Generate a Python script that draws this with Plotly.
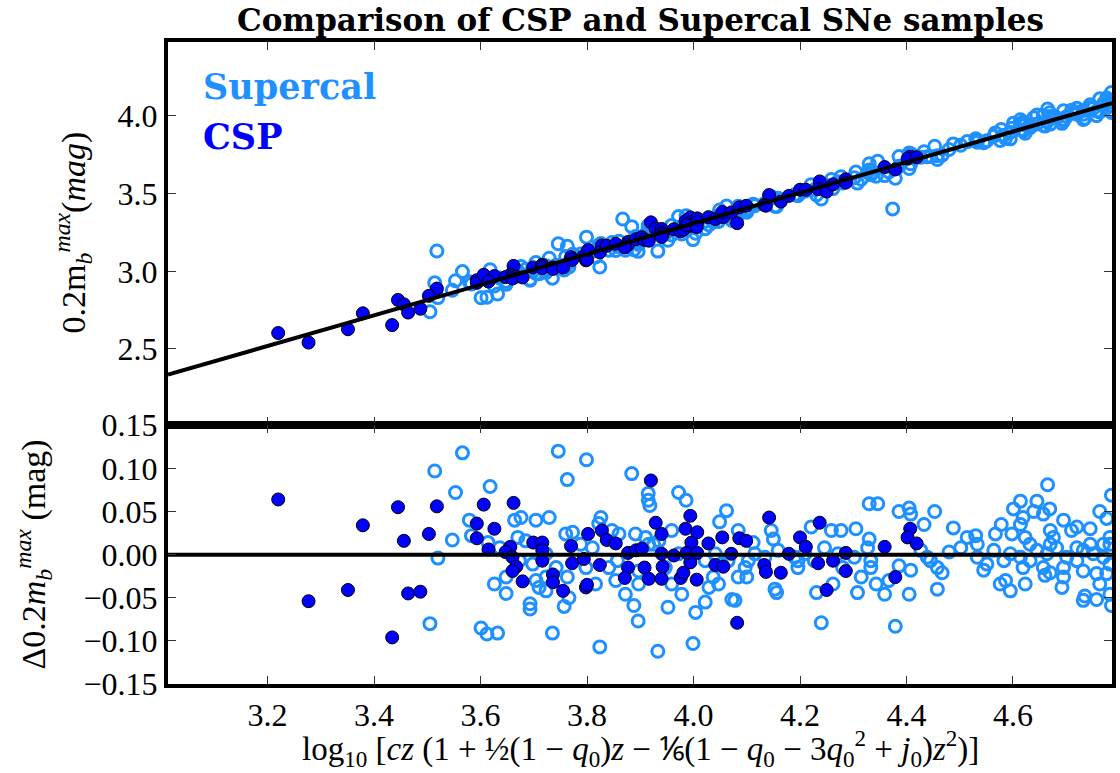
import plotly.graph_objects as go

# ---------------- data ----------------
# Fit line  0.2 m_b = FIT_INTERCEPT + FIT_SLOPE * log10(cz...)
FIT_SLOPE = 0.986
FIT_INTERCEPT = -0.636

X_RANGE = [3.013, 4.786]
Y_TOP_RANGE = [2.009, 4.476]
Y_BOT_RANGE = [-0.15, 0.15]

TOP_TICKS = [2.5, 3.0, 3.5, 4.0]
BOT_TICKS = [-0.15, -0.10, -0.05, 0.00, 0.05, 0.10, 0.15]
X_TICKS = [3.2, 3.4, 3.6, 3.8, 4.0, 4.2, 4.4, 4.6]

# CSP: x (log10 cz ...) and residual Δ0.2m_b
csp_x = [3.220, 3.277, 3.351, 3.379, 3.434, 3.445, 3.456, 3.464, 3.487, 3.518,
         3.503, 3.593, 3.593, 3.606, 3.626, 3.662, 3.615, 3.656, 3.647, 3.660,
         3.667, 3.660, 3.679, 3.699, 3.716, 3.716, 3.716, 3.736, 3.736, 3.755,
         3.770, 3.772, 3.794, 3.798, 3.800, 3.802, 3.828, 3.824, 3.837, 3.854,
         3.877, 3.877, 3.871, 3.892, 3.920, 3.903, 3.908, 3.916, 3.929, 3.940,
         3.940, 3.942, 3.940, 3.963, 3.976, 3.981, 3.985, 3.994, 3.996, 3.994,
         3.987, 4.007, 4.007, 4.006, 4.028, 4.041, 4.056, 4.054, 4.071, 4.086,
         4.099, 4.082, 4.142, 4.133, 4.136, 4.164, 4.179, 4.200, 4.211, 4.237,
         4.234, 4.250, 4.262, 4.286, 4.286, 4.359, 4.407, 4.402, 4.419, 4.379]
csp_dm = [0.064, -0.054, -0.041, 0.034, -0.096, 0.055, 0.016, -0.045, -0.043, 0.056,
          0.024, 0.036, 0.019, 0.058, 0.030, 0.060, 0.006, 0.009, 0.003, -0.003,
          -0.014, -0.019, -0.031, 0.014, 0.014, 0.005, -0.007, -0.023, -0.032, -0.042,
          0.010, -0.010, -0.005, -0.038, -0.035, 0.024, 0.028, -0.012, 0.017, 0.013,
          0.002, -0.015, -0.027, 0.005, 0.086, 0.007, -0.015, -0.028, 0.037, 0.024,
          0.001, -0.014, -0.028, -0.001, -0.027, -0.021, 0.030, 0.045, 0.014, -0.009,
          0.002, 0.026, 0.002, -0.029, 0.013, -0.012, -0.014, 0.020, 0.001, 0.019,
          0.016, -0.079, 0.043, -0.012, -0.020, -0.021, 0.001, 0.020, 0.009, 0.037,
          -0.010, -0.041, -0.007, 0.002, -0.019, 0.009, 0.030, 0.020, 0.013, -0.026]

# Supercal: x and residual Δ0.2m_b
sc_x = [3.566, 3.514, 3.553, 3.618, 3.746, 3.799, 3.763, 3.884, 3.520, 3.547,
        3.579, 3.583, 3.505, 3.601, 3.612, 3.632, 3.735, 3.824, 3.626, 3.648,
        3.693, 3.693, 3.757, 3.766, 3.664, 3.676, 3.704, 3.729, 3.760, 3.773,
        3.826, 3.822, 3.847, 3.891, 3.614, 3.636, 3.670, 3.685, 3.648, 3.704,
        3.723, 3.742, 3.763, 3.816, 3.854, 3.872, 3.888, 3.896, 3.788, 3.810,
        3.857, 3.841, 3.723, 3.698, 3.673, 3.798, 3.723, 3.710, 3.897, 3.860,
        3.915, 3.915, 3.918, 3.972, 3.986, 4.062, 4.049, 3.910, 3.959, 4.084,
        4.112, 4.146, 4.150, 4.221, 4.259, 4.277, 4.305, 4.330, 4.330, 4.246,
        3.897, 3.933, 3.952, 3.999, 4.004, 4.022, 3.978, 3.959, 4.029, 4.047,
        4.072, 4.078, 4.084, 4.100, 4.153, 4.156, 4.196, 4.231, 4.240, 4.262,
        4.308, 4.315, 4.333, 4.343, 4.037, 4.103, 4.097, 4.196, 4.280, 4.053,
        3.947, 3.925, 3.916, 3.935, 3.972, 4.022, 4.041, 4.065, 4.115, 4.134,
        4.159, 4.190, 4.209, 4.227, 4.271, 4.302, 4.327, 4.333,
        4.346, 4.386, 4.405, 4.408, 4.453, 4.433, 4.488, 4.665, 4.614, 4.601,
        4.645, 4.639, 4.657, 4.669, 4.578, 4.614, 4.567, 4.598, 4.623, 4.514,
        4.530, 4.533, 4.670, 4.676, 4.720, 4.710, 4.745, 4.763, 4.776, 4.785,
        4.782, 4.367, 4.359, 4.405, 4.458, 4.379, 4.386, 4.408, 4.467, 4.458,
        4.439, 4.480, 4.545, 4.576, 4.595, 4.586, 4.623, 4.660, 4.670, 4.692,
        4.695, 4.732, 4.735, 4.757, 4.763, 4.785, 4.782, 4.595, 4.614, 4.632,
        4.645, 4.664, 4.682, 4.701, 4.720, 4.732, 4.751, 4.770, 4.782, 4.619,
        4.657, 4.695, 4.732, 4.757, 4.776, 4.564, 4.583, 4.720, 4.745, 4.770,
        4.782, 4.632, 4.670, 4.502, 4.533, 4.551, 4.427, 4.445, 4.619, 4.695,
        3.518, 3.867, 4.374]
sc_dm = [0.118, 0.097, 0.072, 0.079, 0.120, 0.110, 0.087, 0.094, -0.004, 0.017,
         0.040, 0.022, -0.080, -0.085, -0.092, -0.091, -0.091, -0.107, -0.034, -0.045,
         -0.057, -0.063, -0.060, -0.050, 0.040, 0.043, 0.040, 0.043, 0.024, 0.026,
         0.043, 0.036, 0.028, 0.024, 0.014, 0.008, 0.020, 0.016, -0.026, -0.030,
         -0.026, -0.015, -0.026, -0.034, -0.030, -0.046, -0.059, -0.077, 0.012, 0.008,
         -0.007, -0.015, 0.001, -0.011, -0.007, -0.015, -0.042, -0.038, -0.019, 0.024,
         0.071, 0.063, 0.057, 0.072, 0.063, 0.051, 0.038, 0.020, 0.028, 0.028,
         0.014, 0.028, 0.018, 0.032, 0.028, 0.028, 0.030, 0.059, 0.018, 0.008,
         -0.034, -0.112, -0.061, -0.103, -0.067, -0.055, -0.046, -0.034, -0.038, -0.034,
         -0.052, -0.053, -0.026, -0.026, -0.040, -0.044, -0.015, -0.044, -0.079, -0.034,
         -0.044, -0.026, -0.007, -0.034, -0.026, -0.007, -0.015, -0.007, -0.015, -0.011,
         -0.015, 0.012, 0.012, 0.016, 0.001, -0.007, 0.001, -0.007, 0.001, -0.003,
         0.005, -0.003, 0.001, -0.007, 0.001, -0.003, 0.008, -0.015,
         0.059, 0.050, 0.054, 0.047, 0.050, 0.035, 0.031, 0.081, 0.062, 0.053,
         0.062, 0.050, 0.047, 0.053, 0.035, 0.035, 0.024, 0.024, 0.020, 0.020,
         0.022, 0.012, 0.028, 0.020, 0.032, 0.028, 0.030, 0.050, 0.042, 0.069,
         0.012, -0.030, -0.046, -0.046, -0.040, -0.083, -0.013, -0.018, -0.021, -0.015,
         -0.003, 0.003, -0.018, -0.034, -0.042, -0.030, -0.034, -0.024, -0.021, -0.038,
         -0.026, -0.053, -0.048, -0.052, -0.034, -0.059, -0.046, 0.001, -0.003, -0.007,
         0.005, 0.001, 0.008, -0.003, -0.007, 0.005, 0.001, -0.003, -0.011, -0.015,
         -0.015, -0.015, -0.019, -0.022, -0.022, 0.005, -0.007, 0.008, 0.012, 0.012,
         0.020, 0.012, 0.012, 0.008, -0.003, -0.011, 0.005, -0.007, 0.043, 0.040,
         0.298, 0.160, -0.275]

# top-panel values: fit line + residual
csp_m = [FIT_INTERCEPT + FIT_SLOPE * x + d for x, d in zip(csp_x, csp_dm)]
sc_m = [FIT_INTERCEPT + FIT_SLOPE * x + d for x, d in zip(sc_x, sc_dm)]
line_x = X_RANGE
line_y = [FIT_INTERCEPT + FIT_SLOPE * x for x in line_x]

# ---------------- figure ----------------
W, H = 1120, 773
ML, MR, MT, MB = 168, 4, 42, 89
SPLIT = 0.403

SC_COLOR = "#1E90FF"
CSP_COLOR = "#0000FF"
SERIF = "Liberation Serif, Times New Roman, serif"

fig = go.Figure()

sc_marker = dict(symbol="circle-open", size=12, color=SC_COLOR, line=dict(width=3, color=SC_COLOR))
csp_marker = dict(symbol="circle", size=13, color=CSP_COLOR, line=dict(width=1, color="black"))

fig.add_trace(go.Scatter(x=sc_x, y=sc_m, mode="markers", marker=sc_marker,
                         xaxis="x", yaxis="y", showlegend=False, cliponaxis=True))
fig.add_trace(go.Scatter(x=csp_x, y=csp_m, mode="markers", marker=csp_marker,
                         xaxis="x", yaxis="y", showlegend=False, cliponaxis=True))
fig.add_trace(go.Scatter(x=line_x, y=line_y, mode="lines", line=dict(color="black", width=4),
                         xaxis="x", yaxis="y", showlegend=False))

fig.add_trace(go.Scatter(x=sc_x, y=sc_dm, mode="markers", marker=sc_marker,
                         xaxis="x2", yaxis="y2", showlegend=False, cliponaxis=True))
fig.add_trace(go.Scatter(x=csp_x, y=csp_dm, mode="markers", marker=csp_marker,
                         xaxis="x2", yaxis="y2", showlegend=False, cliponaxis=True))
fig.add_trace(go.Scatter(x=line_x, y=[0, 0], mode="lines", line=dict(color="black", width=4),
                         xaxis="x2", yaxis="y2", showlegend=False))

axis_common = dict(showline=True, linecolor="black", linewidth=4, mirror="ticks",
                   ticks="inside", ticklen=8, tickwidth=1, tickcolor="#333333",
                   showgrid=False, zeroline=False,
                   tickfont=dict(family=SERIF, size=32, color="black"))

fig.update_layout(
    width=W, height=H,
    margin=dict(l=ML, r=MR, t=MT, b=MB),
    paper_bgcolor="white", plot_bgcolor="white",
    font=dict(family=SERIF, size=32, color="black"),
    xaxis=dict(domain=[0, 1], anchor="y", range=X_RANGE, tickvals=X_TICKS,
               showticklabels=False, matches="x2", **axis_common),
    yaxis=dict(domain=[SPLIT, 1], anchor="x", range=Y_TOP_RANGE, tickvals=TOP_TICKS,
               tickformat=".1f", **axis_common),
    xaxis2=dict(domain=[0, 1], anchor="y2", range=X_RANGE, tickvals=X_TICKS,
                tickformat=".1f", **axis_common),
    yaxis2=dict(domain=[0, SPLIT], anchor="x2", range=Y_BOT_RANGE, tickvals=BOT_TICKS,
                tickformat=".2f", **axis_common),
)

PW = W - ML - MR
PH = H - MT - MB


def px_x(px):
    return (px - ML) / PW


def px_y(py):
    return (H - MB - py) / PH


annos = [
    dict(text="<b>Comparison of CSP and Supercal SNe samples</b>",
         x=px_x(643), y=px_y(20), xanchor="center", yanchor="middle",
         font=dict(family="DejaVu Serif", size=31, color="black")),
    dict(text="<b>Supercal</b>", x=px_x(201), y=px_y(87), xanchor="left", yanchor="middle",
         font=dict(family="DejaVu Serif", size=35, color=SC_COLOR)),
    dict(text="<b>CSP</b>", x=px_x(201), y=px_y(136), xanchor="left", yanchor="middle",
         font=dict(family="DejaVu Serif", size=35, color=CSP_COLOR)),
    dict(text="0.2m<sub><i>b</i></sub><sup><i>max</i></sup>(<i>mag</i>)",
         x=px_x(72), y=px_y(232), xanchor="center", yanchor="middle", textangle=-90,
         font=dict(family=SERIF, size=34, color="black")),
    dict(text="Δ0.2<i>m</i><sub><i>b</i></sub><sup><i>max</i></sup> (mag)",
         x=px_x(32), y=px_y(555), xanchor="center", yanchor="middle", textangle=-90,
         font=dict(family=SERIF, size=34, color="black")),
    dict(text="log<sub>10</sub> [<i>cz</i> (1 + ½(1 − <i>q</i><sub>0</sub>)<i>z</i> − "
              "⅙(1 − <i>q</i><sub>0</sub> − 3<i>q</i><sub>0</sub><sup>2</sup> + "
              "<i>j</i><sub>0</sub>)<i>z</i><sup>2</sup>)]",
         x=px_x(643), y=px_y(748), xanchor="center", yanchor="middle",
         font=dict(family=SERIF, size=33, color="black")),
]
for a in annos:
    a.update(xref="paper", yref="paper", showarrow=False)
fig.update_layout(annotations=annos)

fig.write_html("out.html")
